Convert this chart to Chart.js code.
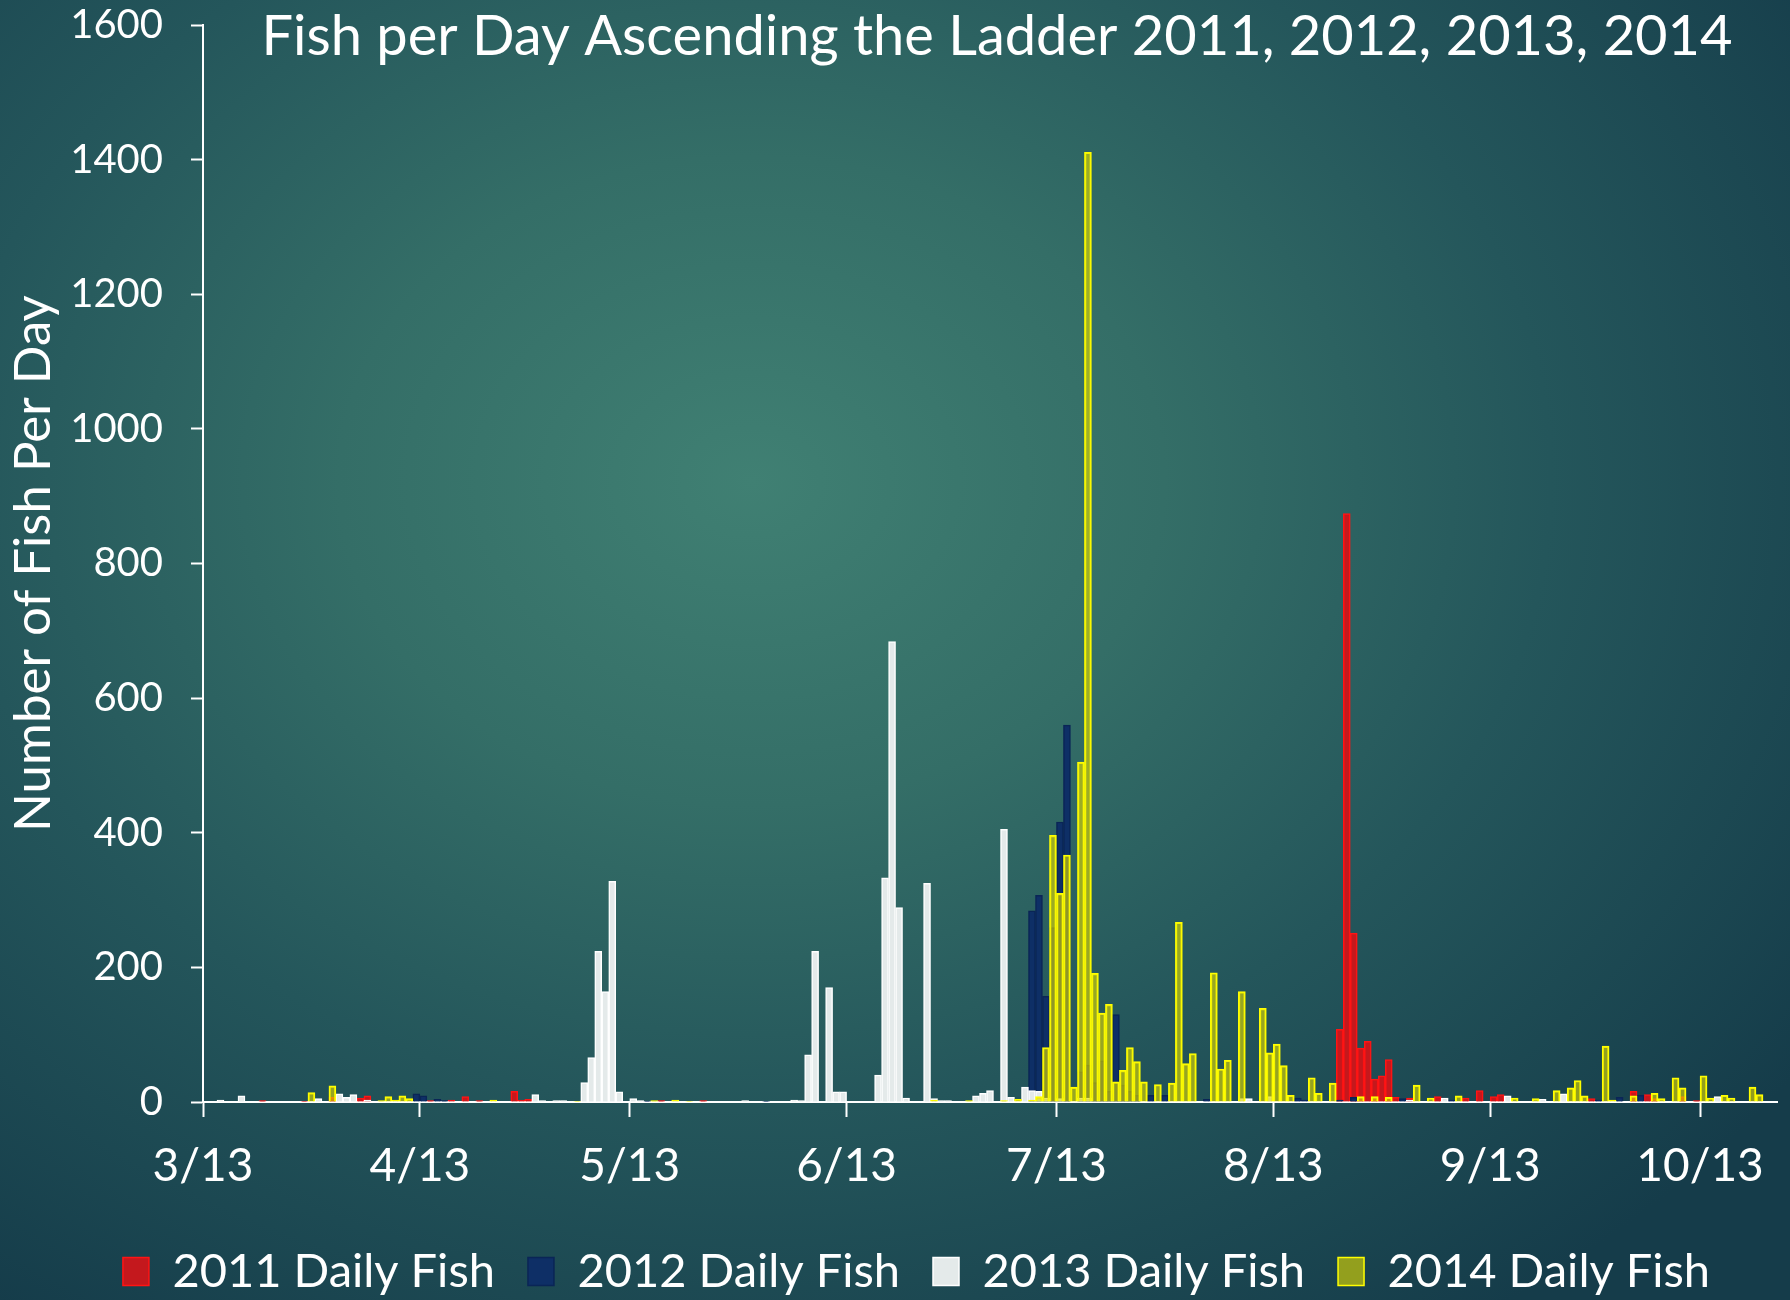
<!DOCTYPE html>
<html>
<head>
<meta charset="utf-8">
<script src="https://cdn.jsdelivr.net/npm/chart.js@4/dist/chart.umd.min.js"></script>
<style>
html, body { margin: 0; padding: 0; width: 1790px; height: 1300px; overflow: hidden; }
body {
  background: radial-gradient(ellipse 72% 78% at 42% 37%,
    rgb(64,128,115) 0%, rgb(52,110,103) 32%, rgb(36,86,91) 62%, rgb(21,60,74) 100%);
}
canvas { display: block; }
</style>
</head>
<body>
<canvas id="chart" width="1790" height="1300"></canvas>
<script>
// ---------------- DATA ----------------
const chartTitle = 'Fish per Day Ascending the Ladder 2011, 2012, 2013, 2014';
const yAxisTitle = 'Number of Fish Per Day';
const axisStart = '3/13';
const axisEnd = '10/24';
const xTickLabels = ['3/13', '4/13', '5/13', '6/13', '7/13', '8/13', '9/13', '10/13'];
const yTicks = [0, 200, 400, 600, 800, 1000, 1200, 1400, 1600];

const seriesNames = ['2011 Daily Fish', '2012 Daily Fish', '2013 Daily Fish', '2014 Daily Fish'];

const dates2011 = ['3/21','3/27','3/31','4/4','4/5','4/14','4/17','4/19','4/21','4/26','4/27','4/28',
  '5/17','5/23','8/22','8/23','8/24','8/25','8/26','8/27','8/28','8/29','8/30','9/1','9/5','9/9',
  '9/11','9/13','9/14','9/27','10/3','10/5','10/6','10/10','10/12'];
const fish2011 = [2,1,7,6,9,2,3,8,2,16,3,4,
  2,2,108,874,251,80,90,34,39,63,7,6,8,6,
  17,8,11,5,16,11,5,8,2];

const dates2012 = ['4/12','4/13','4/15','4/16','5/15','6/1','7/9','7/10','7/11','7/12','7/13','7/14',
  '7/16','7/17','7/18','7/19','7/20','7/21','7/22','7/23','7/24','7/26','7/28','8/3','8/16','8/17',
  '8/22','8/24','8/31','9/7','9/28','10/1','10/4'];
const fish2012 = [12,9,4,2,1,1,284,307,157,259,416,560,
  45,55,29,61,16,130,25,16,10,10,10,4,6,3,
  3,7,5,3,3,7,10];

const dates2013 = ['3/15','3/18','3/29','4/1','4/2','4/3','4/5','4/29','4/30','5/2','5/3','5/6','5/7',
  '5/8','5/9','5/10','5/11','5/13','5/14','5/29','6/5','6/6','6/7','6/8','6/10','6/11','6/12','6/17',
  '6/18','6/19','6/20','6/21','6/24','6/25','6/26','6/27','7/1','7/2','7/3','7/5','7/6','7/8','7/9',
  '7/10','7/11','7/13','7/16','7/17','8/8','8/9','8/12','9/1','9/6','9/15','9/20','9/23','10/15'];
const fish2013 = [3,9,5,12,7,11,3,11,2,2,2,29,66,
  224,164,328,15,5,2,2,3,2,70,224,170,15,15,40,
  333,684,289,6,325,5,2,2,9,13,17,405,7,22,17,
  16,6,5,6,6,5,5,8,3,6,9,4,12,8];

const dates2014 = ['3/28','3/31','4/7','4/8','4/9','4/10','4/11','4/23','5/5','5/16','5/19','5/21',
  '6/25','6/30','7/5','7/7','7/9','7/10','7/11','7/12','7/13','7/14','7/15','7/16','7/17','7/18',
  '7/19','7/20','7/21','7/22','7/23','7/24','7/25','7/27','7/29','7/30','7/31','8/1','8/4','8/5',
  '8/6','8/8','8/11','8/12','8/13','8/14','8/15','8/18','8/19','8/21','8/25','8/27','8/29','9/2',
  '9/4','9/8','9/16','9/19','9/22','9/24','9/25','9/26','9/29','9/30','10/3','10/6','10/7','10/9',
  '10/10','10/13','10/14','10/16','10/17','10/20','10/21'];
const fish2014 = [14,24,2,8,3,9,5,3,1,2,3,1,
  3,2,2,4,3,8,81,396,310,367,22,505,1411,191,
  132,145,30,47,81,60,30,26,28,267,57,72,192,49,
  62,164,139,73,86,54,10,36,13,28,8,8,7,25,
  6,9,6,5,17,21,32,9,83,3,9,13,5,36,
  21,39,6,10,6,22,11];

// ---------------- HELPERS ----------------
const CUM_DAYS = [0,31,59,90,120,151,181,212,243,273,304,334];
function dayOfYear(md) { const [m, d] = md.split('/').map(Number); return CUM_DAYS[m - 1] + d; }
function dayIndex(md) { return dayOfYear(md) - dayOfYear(axisStart); }
// each daily bar fills its own day slot [day, day+1]
function toPoints(dates, values) { return dates.map((md, i) => ({ x: dayIndex(md) + 0.5, y: values[i] })); }

const FONT = 'Lato, "Open Sans", "DejaVu Sans", sans-serif';

const overlayTitle = {
  id: 'overlayTitle',
  afterDraw(chart) {
    const ctx = chart.ctx;
    ctx.save();
    ctx.font = '56px ' + FONT;
    ctx.fillStyle = '#ffffff';
    ctx.textAlign = 'center';
    ctx.textBaseline = 'alphabetic';
    ctx.fillText(chartTitle, 997, 55);
    ctx.restore();
  }
};

// centre the legend row under the plot like the reference
const legendShift = {
  id: 'legendShift',
  afterLayout(chart) {
    if (chart.legend) { chart.legend.left += 28; chart.legend.right += 28; }
  }
};

function draw() {
  new Chart(document.getElementById('chart'), {
    type: 'bar',
    data: {
      datasets: [
        { label: seriesNames[0], data: toPoints(dates2011, fish2011),
          backgroundColor: 'rgba(205,22,26,0.95)', borderColor: '#ff1414', borderWidth: 1.5, order: 3 },
        { label: seriesNames[1], data: toPoints(dates2012, fish2012),
          backgroundColor: '#0e2f66', borderColor: '#0a2556', borderWidth: 1.5, order: 2 },
        { label: seriesNames[2], data: toPoints(dates2013, fish2013),
          backgroundColor: '#e4eaea', borderColor: '#ffffff', borderWidth: 1.5, order: 1 },
        { label: seriesNames[3], data: toPoints(dates2014, fish2014),
          backgroundColor: 'rgba(222,216,0,0.62)', borderColor: '#ffff00', borderWidth: 1.5, order: 0 }
      ]
    },
    options: {
      responsive: false,
      animation: false,
      devicePixelRatio: 1,
      layout: { padding: { top: 25, right: 13, bottom: -5, left: 0 } },
      datasets: { bar: { grouped: false, barPercentage: 1, categoryPercentage: 1 } },
      scales: {
        x: {
          type: 'linear',
          min: 0,
          max: dayIndex(axisEnd),
          offset: false,
          afterBuildTicks: (axis) => { axis.ticks = xTickLabels.map(l => ({ value: dayIndex(l) })); },
          afterFit: (axis) => { axis.height = 113; },
          ticks: {
            color: '#ffffff', autoSkip: false, maxRotation: 0, padding: 22,
            font: { family: FONT, size: 46 },
            callback: (v, i) => xTickLabels[i]
          },
          grid: { drawOnChartArea: false, drawTicks: true, tickLength: 15, tickColor: '#ffffff', tickWidth: 2, offset: false },
          border: { color: '#ffffff', width: 2 }
        },
        y: {
          min: yTicks[0],
          max: yTicks[yTicks.length - 1],
          afterBuildTicks: (axis) => { axis.ticks = yTicks.map(v => ({ value: v })); },
          afterFit: (axis) => { axis.width = 203; axis.paddingTop = 0; axis.paddingBottom = 0; },
          ticks: { color: '#ffffff', padding: 28, font: { family: FONT, size: 40 }, callback: (v) => String(v) },
          grid: { drawOnChartArea: false, drawTicks: true, tickLength: 12, tickColor: '#ffffff', tickWidth: 2 },
          border: { color: '#ffffff', width: 2 },
          title: {
            display: true, text: yAxisTitle, color: '#ffffff',
            font: { family: FONT, size: 51 }, padding: { top: 3, bottom: 0 }
          }
        }
      },
      plugins: {
        legend: {
          position: 'bottom',
          labels: {
            color: '#ffffff', boxWidth: 26, boxHeight: 28, padding: 33,
            font: { family: FONT, size: 47 },
            sort: (a, b) => a.datasetIndex - b.datasetIndex
          }
        },
        tooltip: { enabled: false },
        title: { display: false }
      }
    },
    plugins: [overlayTitle, legendShift]
  });
}

if (document.fonts && document.fonts.load) {
  document.fonts.load('46px Lato').then(draw, draw);
} else { draw(); }
</script>
</body>
</html>
